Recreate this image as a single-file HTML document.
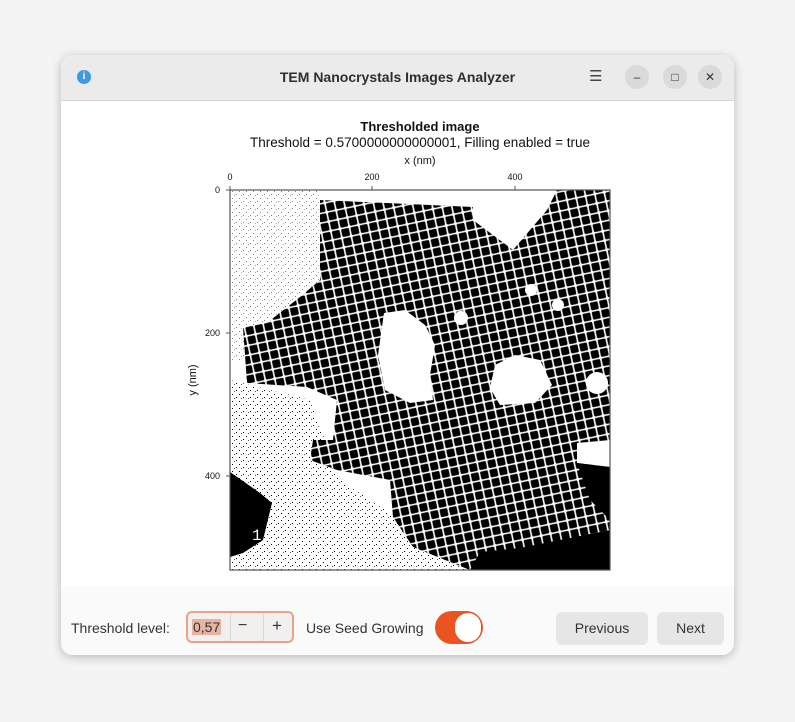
<!DOCTYPE html>
<html><head><meta charset="utf-8"><style>
html,body{margin:0;padding:0;width:795px;height:722px;background:#f4f4f4;overflow:hidden;font-family:"Liberation Sans",sans-serif}
.win{position:absolute;left:61px;top:55px;width:673px;height:600px;border-radius:12px;background:#fff;box-shadow:0 2px 10px rgba(0,0,0,.25);overflow:hidden}
.hdr{position:absolute;left:0;top:0;width:673px;height:45px;background:#ebebeb;border-bottom:1px solid #d6d6d6}
.title{position:absolute;left:0;width:673px;top:14px;text-align:center;font-weight:bold;font-size:14px;color:#2e2e2e}
.cb{position:absolute;top:10px;width:24px;height:24px;border-radius:12px;background:#dadada;font-size:12px;text-align:center;line-height:24px;color:#333}
.bot{position:absolute;left:0;top:531px;width:673px;height:69px;background:#fafafa}
.lbl{position:absolute;font-size:14px;color:#333;top:26px}
.btn{position:absolute;top:26px;height:33px;border-radius:6px;background:#e6e6e6;font-size:14px;color:#333;text-align:center;line-height:33px}
</style></head><body>
<div class="win">
<div class="hdr">
<div style="position:absolute;left:16px;top:15px;width:14px;height:14px;border-radius:7px;background:#3d9ae0;color:#fff;font-size:10px;font-weight:bold;text-align:center;line-height:14px">i</div>
<div class="title">TEM Nanocrystals Images Analyzer</div>
<div style="position:absolute;left:528px;top:12px;font-size:15px;color:#444">☰</div>
<div class="cb" style="left:564px">–</div>
<div class="cb" style="left:602px">□</div>
<div class="cb" style="left:637px">✕</div>
</div>
<div class="bot">
<div class="lbl" style="left:10px;top:34px">Threshold level:</div>
<div style="position:absolute;left:125px;top:25px;width:108px;height:32px;border:2px solid #e8a288;border-radius:6px;background:#f0f0f0;box-sizing:border-box">
<span style="position:absolute;left:4px;top:6px;background:#e9b3a2;font-size:14px;color:#333;padding:0 1px">0,57</span>
<div style="position:absolute;left:42px;top:0;width:1px;height:28px;background:#d8d8d8"></div>
<div style="position:absolute;left:50px;top:4px;font-size:16px;color:#333">−</div>
<div style="position:absolute;left:75px;top:0;width:1px;height:28px;background:#d8d8d8"></div>
<div style="position:absolute;left:84px;top:3px;font-size:17px;color:#333">+</div>
</div>
<div class="lbl" style="left:245px;top:34px">Use Seed Growing</div>
<div style="position:absolute;left:374px;top:25px;width:48px;height:33px;border-radius:17px;background:#e95420">
<div style="position:absolute;left:20px;top:2px;width:26px;height:29px;border-radius:14px;background:#fff"></div></div>
<div class="btn" style="left:495px;width:92px">Previous</div>
<div class="btn" style="left:596px;width:67px">Next</div>
</div>
</div>
<svg width="795" height="722" style="position:absolute;left:0;top:0">
<defs>
<pattern id="grid" width="9.5" height="9.5" patternUnits="userSpaceOnUse" patternTransform="rotate(-12)">
<rect width="9.5" height="9.5" fill="#fff"/><rect x="0.8" y="0.8" width="7.9" height="7.9" rx="1.2" fill="#000"/></pattern>
<pattern id="noise" width="7" height="7" patternUnits="userSpaceOnUse">
<rect x="1" y="2" width="1" height="1" fill="#000"/><rect x="5" y="5" width="1" height="1" fill="#000"/><rect x="3" y="6" width="1" height="1" fill="#555"/></pattern>
<clipPath id="pc"><rect x="230" y="190" width="380" height="380"/></clipPath>
</defs>
<text x="420" y="131" text-anchor="middle" font-size="13" font-weight="bold" fill="#111">Thresholded image</text>
<text x="420" y="147" text-anchor="middle" font-size="13.5" fill="#111">Threshold = 0.5700000000000001, Filling enabled = true</text>
<text x="420" y="164" text-anchor="middle" font-size="11" fill="#111">x (nm)</text>
<text transform="translate(196,380) rotate(-90)" text-anchor="middle" font-size="11" fill="#111">y (nm)</text>
<g font-size="9" fill="#111">
<text x="230" y="180" text-anchor="middle">0</text><text x="372" y="180" text-anchor="middle">200</text><text x="515" y="180" text-anchor="middle">400</text></g>
<g font-size="9" fill="#111" text-anchor="end">
<text x="220" y="193">0</text><text x="220" y="336">200</text><text x="220" y="479">400</text></g>
<g clip-path="url(#pc)">
<rect x="230" y="190" width="380" height="380" fill="#fff"/>
<polygon points="230,190 320,190 320,290 250,360 230,360" fill="url(#noise)" opacity="0.5"/>
<polygon points="230,380 310,400 340,480 400,520 470,570 230,570" fill="url(#noise)"/>
<polygon fill="url(#grid)" points="320,200 473,207 473,220 513,250 547,210 557,190 610,190 610,440 577,443 577,463 610,467 610,570 470,570 413,547 393,517 390,480 337,470 310,460 313,440 333,440 337,400 307,387 247,383 243,327 267,323 300,297 320,280 320,243"/>
<polygon fill="#fff" points="384,313 405,310 425,325 435,345 430,375 433,400 410,403 385,390 378,355"/>
<polygon fill="#fff" points="495,365 515,355 540,360 552,385 535,403 500,405 490,388"/>
<circle cx="597" cy="383" r="11" fill="#fff"/>
<circle cx="461" cy="318" r="7" fill="#fff"/><circle cx="558" cy="305" r="6" fill="#fff"/><circle cx="531" cy="290" r="6" fill="#fff"/>
<polygon fill="#000" points="230,472 260,493 272,503 263,540 243,553 230,557"/>
<polygon fill="#000" points="470,570 480,552 520,548 560,540 610,530 610,570"/>
<polygon fill="#000" points="577,463 610,467 610,520 590,500"/>
<text x="252" y="540" font-size="16" fill="#fff" font-family="Liberation Mono">1</text>
</g>
<rect x="230" y="190" width="380" height="380" fill="none" stroke="#555" stroke-width="1.2"/>
<g stroke="#555"><line x1="230" y1="186" x2="230" y2="190"/><line x1="372" y1="186" x2="372" y2="190"/><line x1="515" y1="186" x2="515" y2="190"/><line x1="226" y1="190" x2="230" y2="190"/><line x1="226" y1="333" x2="230" y2="333"/><line x1="226" y1="476" x2="230" y2="476"/></g>
</svg>
</body></html>
